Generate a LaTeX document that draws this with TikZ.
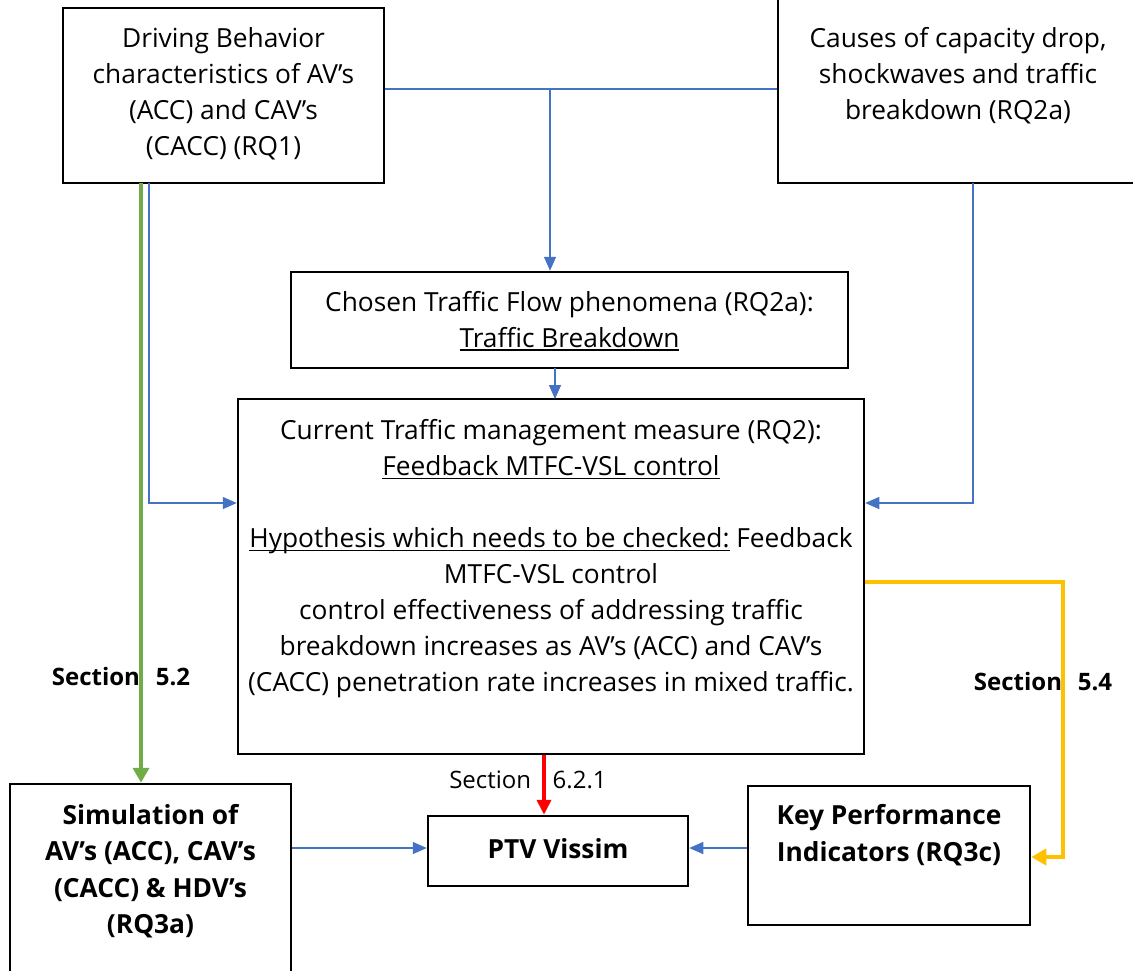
\documentclass[tikz,border=0pt]{standalone}
\usepackage{fontspec}
\setmainfont{Open Sans}
\usetikzlibrary{arrows.meta}
\definecolor{cblue}{HTML}{4472C4}
\definecolor{cgreen}{HTML}{70AD47}
\definecolor{cyellow}{HTML}{FFC000}
\definecolor{cred}{HTML}{FF0000}
\newcommand\myul[1]{\setbox0\hbox{#1}\rlap{\rule[-4pt]{\wd0}{1.6pt}}\box0\relax}
\begin{document}
\begin{tikzpicture}[x=1pt,y=-1pt,
  box/.style={draw=black,line width=2.5pt,inner sep=0pt,align=center},
  txt/.style={font=\fontsize{26.3}{36}\selectfont,align=center,inner sep=0pt},
  btxt/.style={font=\fontsize{26.3}{36.5}\selectfont\bfseries,align=center,inner sep=0pt},
  stxt/.style={font=\fontsize{24}{30}\selectfont,align=center,inner sep=0pt},
  bl/.style={draw=cblue,line width=1.4pt,-{Triangle[length=14pt,width=12pt]}},
  bln/.style={draw=cblue,line width=1.4pt},
  thick/.style={line width=4pt,-{Triangle[length=15pt,width=16pt]}}]
\useasboundingbox (0,0) rectangle (1133,970);
% boxes
\node[box,minimum width=321pt,minimum height=175pt] (A) at (223.5,95.5) {};
\node[txt] (At) at (223.5,94) {Driving Behavior\\characteristics of AV’s\\(ACC) and CAV’s\\(CACC) (RQ1)};
\node[box,minimum width=362pt,minimum height=220pt] (B) at (959,73) {};
\node[txt] (Bt) at (958,76) {Causes of capacity drop,\\shockwaves and traffic\\breakdown (RQ2a)};
\node[box,minimum width=557pt,minimum height=96pt] (C) at (569.5,320) {};
\node[txt] (Ct) at (569.5,321) {Chosen Traffic Flow phenomena (RQ2a):\\\myul{Traffic Breakdown}};
\node[box,minimum width=626pt,minimum height=355pt] (D) at (551,576.5) {};
\node[txt,anchor=north] (Dt) at (551,419) {Current Traffic management measure (RQ2):\\\myul{Feedback MTFC-VSL control}\\[36pt]\myul{Hypothesis which needs to be checked:} Feedback\\MTFC-VSL control\\control effectiveness of addressing traffic\\breakdown increases as AV’s (ACC) and CAV’s\\(CACC) penetration rate increases in mixed traffic.};
\node[box,minimum width=281pt,minimum height=200pt] (E) at (150.5,884) {};
\node[btxt] (Et) at (150.5,871) {Simulation of\\AV’s (ACC), CAV’s\\(CACC) \& HDV’s\\(RQ3a)};
\node[box,minimum width=260pt,minimum height=70pt] (F) at (558,851) {};
\node[btxt] (Ft) at (558,849) {PTV Vissim};
\node[box,minimum width=282pt,minimum height=139pt] (G) at (889,855.5) {};
\node[btxt] (Gt) at (889,835) {Key Performance\\Indicators (RQ3c)};
% coordinates
\coordinate (j1) at (550,89);
% blue connectors
\draw[bln] (A.east |- j1) -- (B.west |- j1);
\draw[bl] (j1) -- (C.north -| j1);
\draw[bl] (555,368) -- (555,399);
\draw[bl] (149,183) -- (149,503) -- (D.west |- 0,503);
\draw[bl] (973,183) -- (973,503) -- (D.east |- 0,503);
\draw[bl] (E.east |- 0,848) -- (F.west |- 0,848);
\draw[bl] (G.west |- 0,848) -- (F.east |- 0,848);
% thick connectors
\draw[thick,draw=cgreen,-{Triangle[length=15pt,width=16pt,fill=cgreen]}] (141,183) -- (E.north -| 141,0);
\draw[thick,draw=cyellow,-{Triangle[length=15pt,width=16pt,fill=cyellow]}] (D.east |- 0,582) -- (1063,582) -- (1063,857) -- (G.east |- 0,857);
\node[stxt] (s62) at (528,780) {Section\hspace{0.9em}6.2.1};
\draw[thick,draw=cred,-{Triangle[length=15pt,width=14pt,fill=cred]}] (D.south -| 544,0) -- (F.north -| 544,0);
% labels
\node[stxt,font=\fontsize{24}{30}\selectfont\bfseries] (s52) at (121,677) {Section\hspace{0.4em} 5.2};
\node[stxt,font=\fontsize{24}{30}\selectfont\bfseries] (s54) at (1043,682) {Section\hspace{0.4em} 5.4};
\end{tikzpicture}
\end{document}
